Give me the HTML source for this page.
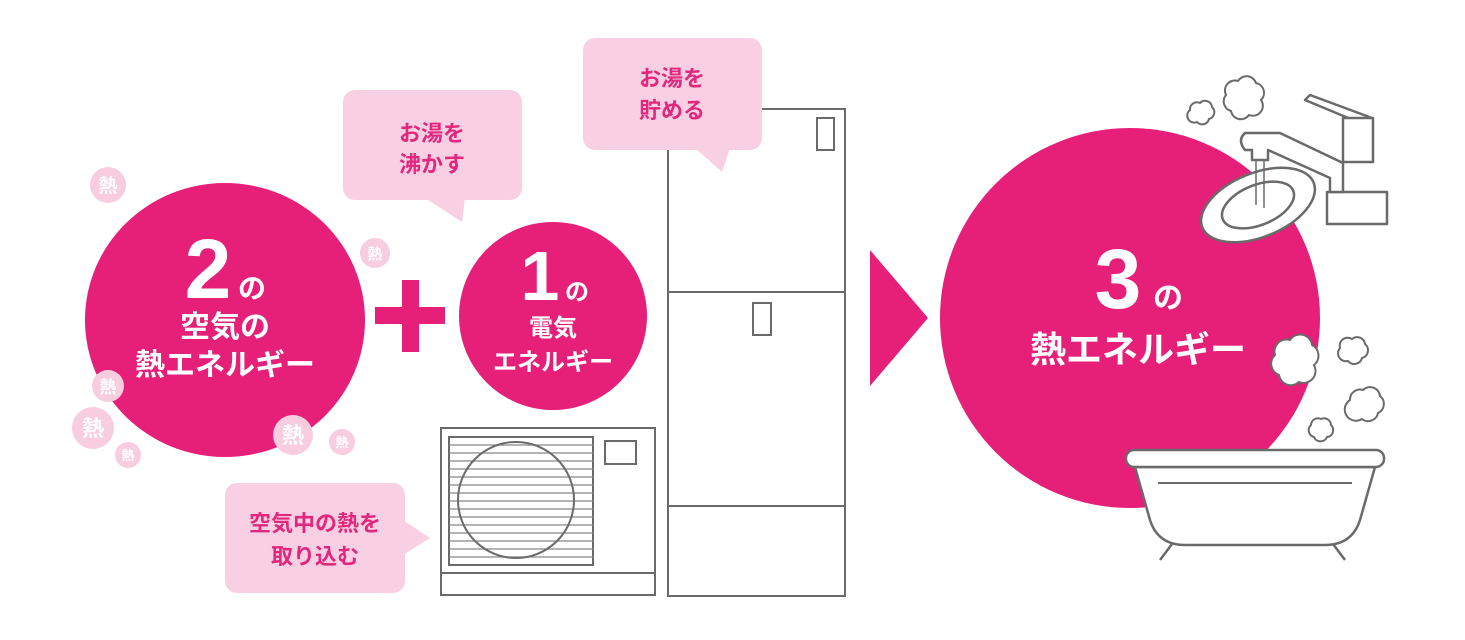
<!DOCTYPE html>
<html><head><meta charset="utf-8"><style>
html,body{margin:0;padding:0;background:#fff;}
svg{display:block;}
text{font-family:"Liberation Sans","Noto Sans CJK JP",sans-serif;font-weight:bold;}
</style></head><body>
<svg width="1465" height="640" viewBox="0 0 1465 640" xmlns="http://www.w3.org/2000/svg">
<!-- big circle 1 -->
<ellipse cx="225" cy="320" rx="140" ry="137" fill="#e61f78"/>
<g fill="#fff" text-anchor="middle">
<text x="208" y="298" font-size="84">2</text>
<text x="252" y="298" font-size="28">の</text>
<text x="225" y="337" font-size="30">空気の</text>
<text x="225" y="375" font-size="30">熱エネルギー</text>
</g>
<!-- heat bubbles -->
<g fill="#f8cde0">
<circle cx="108" cy="185" r="18"/><circle cx="375" cy="253" r="15"/>
<circle cx="108" cy="386" r="16"/><circle cx="93" cy="428" r="21"/>
<circle cx="128" cy="455" r="13"/><circle cx="293" cy="435" r="20"/>
<circle cx="342" cy="442" r="13"/>
</g>
<g fill="#fff" text-anchor="middle" font-weight="normal">
<text x="108" y="192" font-size="19">熱</text>
<text x="375" y="259" font-size="15">熱</text>
<text x="108" y="393" font-size="17">熱</text>
<text x="93" y="436" font-size="22">熱</text>
<text x="128" y="460" font-size="13">熱</text>
<text x="293" y="443" font-size="22">熱</text>
<text x="342" y="447" font-size="13">熱</text>
</g>
<!-- plus -->
<rect x="375" y="307" width="70" height="17" fill="#e61f78"/>
<rect x="402" y="280" width="17" height="72" fill="#e61f78"/>
<!-- circle 2 -->
<ellipse cx="553" cy="316" rx="94" ry="94" fill="#e61f78"/>
<g fill="#fff" text-anchor="middle">
<text x="540" y="300" font-size="70">1</text>
<text x="577" y="300" font-size="24">の</text>
<text x="553" y="336" font-size="24">電気</text>
<text x="553" y="370" font-size="24">エネルギー</text>
</g>
<!-- outdoor unit -->
<g fill="none" stroke="#6a6a6a" stroke-width="2">
<rect x="441" y="428" width="214" height="167"/>
<line x1="441" y1="573" x2="655" y2="573"/>
<rect x="449" y="437" width="144" height="128"/>
<rect x="605" y="441" width="31" height="23"/>
</g>
<g stroke="#888" stroke-width="1.3">
<line x1="449" y1="445" x2="593" y2="445"/><line x1="449" y1="453" x2="593" y2="453"/>
<line x1="449" y1="461" x2="593" y2="461"/><line x1="449" y1="469" x2="593" y2="469"/>
<line x1="449" y1="477" x2="593" y2="477"/><line x1="449" y1="485" x2="593" y2="485"/>
<line x1="449" y1="493" x2="593" y2="493"/><line x1="449" y1="501" x2="593" y2="501"/>
<line x1="449" y1="509" x2="593" y2="509"/><line x1="449" y1="517" x2="593" y2="517"/>
<line x1="449" y1="525" x2="593" y2="525"/><line x1="449" y1="533" x2="593" y2="533"/>
<line x1="449" y1="541" x2="593" y2="541"/><line x1="449" y1="549" x2="593" y2="549"/>
<line x1="449" y1="557" x2="593" y2="557"/>
</g>
<circle cx="516" cy="500" r="58" fill="none" stroke="#6a6a6a" stroke-width="2"/>
<!-- tank -->
<g fill="none" stroke="#6a6a6a" stroke-width="2">
<rect x="668" y="109" width="177" height="487"/>
<line x1="668" y1="292" x2="845" y2="292"/>
<line x1="668" y1="506" x2="845" y2="506"/>
<rect x="817" y="118" width="17" height="32"/>
<rect x="753" y="303" width="18" height="32"/>
</g>
<!-- bubbles -->
<g fill="#f9d0e3">
<rect x="343" y="90" width="179" height="110" rx="12"/>
<polygon points="425,198 465,198 462,222"/>
<rect x="583" y="38" width="179" height="112" rx="12"/>
<polygon points="695,148 730,148 722,172"/>
<rect x="225" y="483" width="180" height="110" rx="12"/>
<polygon points="403,520 403,555 430,538"/>
</g>
<g fill="#e2287c" text-anchor="middle">
<text x="432" y="141" font-size="22">お湯を</text>
<text x="432" y="172" font-size="22">沸かす</text>
<text x="672" y="86" font-size="22">お湯を</text>
<text x="672" y="118" font-size="22">貯める</text>
<text x="315" y="531" font-size="22">空気中の熱を</text>
<text x="315" y="564" font-size="22">取り込む</text>
</g>
<!-- arrow -->
<polygon points="870,250 928,318 870,386" fill="#e61f78"/>
<!-- circle 3 -->
<circle cx="1130" cy="318" r="190" fill="#e61f78"/>
<g fill="#fff" text-anchor="middle">
<text x="1118" y="308" font-size="84">3</text>
<text x="1168" y="308" font-size="30">の</text>
<text x="1138" y="362" font-size="36">熱エネルギー</text>
</g>
<!-- faucet & sink -->
<g fill="#fff" stroke="#6a6a6a" stroke-width="2.5" stroke-linejoin="round">
<ellipse cx="1258" cy="205" rx="60" ry="32" transform="rotate(-22 1258 205)"/>
<ellipse cx="1258" cy="205" rx="38" ry="20" transform="rotate(-22 1258 205)"/>
<rect x="1327" y="192" width="60" height="32"/>
<path d="M1343 192 L1343 163 L1280 133 L1245 133 Q1237 140 1245 150 L1252 150 L1252 160 L1268 160 L1268 150 L1330 178 L1330 192 Z"/>
<path d="M1305 100 L1365 125 L1372 118 L1310 95 Z"/>
<rect x="1343" y="118" width="30" height="44"/>
</g>
<g stroke="#6a6a6a" stroke-width="1.5">
<line x1="1256" y1="160" x2="1256" y2="205"/><line x1="1264" y1="160" x2="1264" y2="208"/>
</g>
<!-- steam clouds -->
<g fill="#fff" stroke="#6a6a6a" stroke-width="2">
<path d="M1226 95 a10 10 0 0 1 12 -14 a10 10 0 0 1 18 2 a10 10 0 0 1 5 17 a10 10 0 0 1 -12 15 a10 10 0 0 1 -18 -4 a10 10 0 0 1 -5 -16 Z"/>
<path d="M1190 110 a7 7 0 0 1 10 -7 a7 7 0 0 1 12 4 a7 7 0 0 1 -3 12 a7 7 0 0 1 -12 3 a7 7 0 0 1 -7 -12 Z"/>
<path d="M1275 355 a12 12 0 0 1 15 -15 a12 12 0 0 1 22 5 a12 12 0 0 1 2 20 a12 12 0 0 1 -15 17 a12 12 0 0 1 -20 -7 a12 12 0 0 1 -4 -20 Z"/>
<path d="M1340 348 a8 8 0 0 1 12 -9 a8 8 0 0 1 13 5 a8 8 0 0 1 -3 14 a8 8 0 0 1 -14 3 a8 8 0 0 1 -8 -13 Z"/>
<path d="M1350 400 a10 10 0 0 1 13 -10 a10 10 0 0 1 17 6 a10 10 0 0 1 -2 17 a10 10 0 0 1 -16 6 a10 10 0 0 1 -12 -19 Z"/>
<path d="M1311 425 a7 7 0 0 1 10 -6 a7 7 0 0 1 10 6 a7 7 0 0 1 -4 12 a7 7 0 0 1 -13 0 a7 7 0 0 1 -3 -12 Z"/>
</g>
<!-- bathtub -->
<g fill="#fff" stroke="#6a6a6a" stroke-width="2.5" stroke-linejoin="round">
<line x1="1175" y1="540" x2="1160" y2="560"/><line x1="1330" y1="540" x2="1345" y2="560"/>
<path d="M1135 467 L1375 467 L1360 520 Q1352 545 1325 545 L1185 545 Q1158 545 1150 520 Z"/>
<rect x="1126" y="450" width="258" height="17" rx="8"/>
<line x1="1158" y1="483" x2="1352" y2="483" stroke-width="2"/>
</g>
</svg>
</body></html>
